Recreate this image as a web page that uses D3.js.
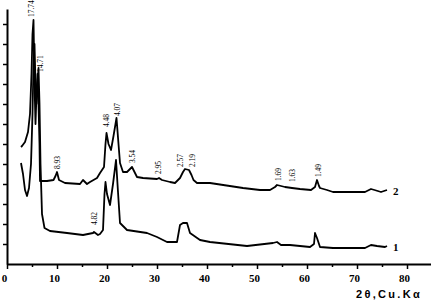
<!DOCTYPE html>
<html><head><meta charset="utf-8">
<script src="https://cdn.jsdelivr.net/npm/d3@7"></script>
<style>html,body{margin:0;padding:0;background:#fff;}svg{display:block;}</style>
</head><body>
<svg id="c" width="431" height="302"></svg>
<script>
// 2θ values and intensities (arbitrary units) for pattern 2 (upper) and pattern 1 (lower)
const theta2 = [2.8,3.0,3.6,4.2,4.6,4.9,5.1,5.3,5.5,5.7,5.9,6.1,6.3,6.5,6.6,8.0,9.3,9.7,10.0,10.4,11.6,14.6,15.2,16.0,16.6,18.0,18.6,19.4,19.7,19.9,20.3,20.8,21.3,21.9,22.3,22.6,23.2,24.0,25.0,26.0,27.2,30.0,30.4,31.0,32.6,33.6,34.6,35.2,35.6,36.4,36.9,37.3,38.0,40.6,47.2,50.6,52.6,53.6,54.0,54.8,55.6,57.0,58.6,60.8,61.6,62.0,62.4,62.6,64.0,65.2,69.0,71.6,72.8,73.5,74.8,76.0];
const int2 = [5.85,5.9,6.1,6.6,7.5,9.5,11.5,12.2,9.0,7.0,8.5,9.5,8.0,6.0,4.15,4.15,4.2,4.4,4.6,4.2,4.05,4.0,4.2,4.0,4.1,4.3,4.55,4.85,6.0,6.55,6.0,5.7,6.4,7.3,6.0,5.05,4.6,4.6,4.85,4.35,4.3,4.25,4.3,4.2,4.1,4.05,4.3,4.6,4.75,4.7,4.45,4.2,4.05,4.05,3.8,3.7,3.7,3.85,3.95,3.9,3.85,3.8,3.75,3.7,3.85,4.2,3.9,3.8,3.7,3.6,3.6,3.6,3.75,3.7,3.6,3.7];
const theta1 = [2.8,3.2,3.6,4.0,4.4,4.8,5.1,5.3,5.5,5.7,5.9,6.1,6.3,6.5,6.7,7.0,7.5,8.6,12.0,15.2,17.2,17.4,18.2,18.6,19.2,19.5,19.7,20.0,20.6,21.2,21.8,22.2,22.6,24.0,28.0,30.0,32.0,34.0,34.6,35.2,36.0,36.6,38.6,40.6,48.0,53.2,54.0,54.8,56.6,60.6,61.4,61.6,62.0,62.6,65.2,71.6,72.8,74.0,75.6,76.0];
const int1 = [5.05,4.5,3.7,3.4,3.8,5.0,7.5,10.0,11.0,9.0,8.0,9.0,9.8,8.0,5.0,2.5,1.8,1.65,1.55,1.45,1.55,1.6,1.45,1.5,1.7,3.5,4.1,3.5,2.95,4.0,5.2,3.6,2.05,1.7,1.55,1.35,1.1,1.1,1.95,2.05,2.05,1.55,1.2,1.1,0.9,1.05,1.1,0.95,0.95,0.85,1.0,1.55,1.3,0.85,0.8,0.8,0.95,0.9,0.85,0.9];
// d-spacing labels and their anchor (2θ, intensity)
const peakLabels = ["17.74","14.71","8.93","4.82","4.48","4.07","3.54","2.95","2.57","2.19","1.69","1.63","1.49"];
const peakTheta  = [4.8,6.6,10.0,17.4,19.8,22.0,25.0,30.2,34.6,37.0,54.2,57.0,62.2];
const peakLevel  = [12.35,9.6,4.75,1.95,6.85,7.4,5.05,4.5,4.85,4.85,4.15,4.1,4.35];
const seriesNames = ["2","1"];
const xMajor = [0,10,20,30,40,50,60,70,80];
const xMinor = [5,15,25,35,45,55,65,75,85];
const yTicks = [1,2,3,4,5,6,7,8,9,10,11,12];
const xTitle = "2θ,Cu.Kα";

const svg = d3.select("#c");
const x = d3.scaleLinear().domain([0,85]).range([7,432]);
const y = d3.scaleLinear().domain([0,12.75]).range([264,9]);

// axes
const gx = svg.append("g").attr("transform","translate(0,264)");
gx.call(d3.axisBottom(x).tickValues(xMajor).tickSize(5).tickSizeOuter(0).tickFormat(d3.format("d")));
const gxm = svg.append("g").attr("transform","translate(0,264)");
gxm.call(d3.axisBottom(x).tickValues(xMinor).tickSize(3).tickSizeOuter(0).tickFormat(""));
gxm.select(".domain").remove();
const gy = svg.append("g").attr("transform","translate(7,0)");
gy.call(d3.axisLeft(y).tickValues(yTicks).tickSize(4).tickSizeOuter(0).tickFormat(""));
svg.selectAll(".domain").attr("stroke","#000").attr("stroke-width",2);
svg.selectAll(".tick line").attr("stroke","#000").attr("stroke-width",1.5);
gx.selectAll(".tick text")
  .attr("font-family","'Liberation Serif', serif").attr("font-weight","bold")
  .attr("font-size","11px").attr("fill","#000").attr("dx","-3").attr("y",10);

// curves
const line = d3.line().x(d=>x(d[0])).y(d=>y(d[1]));
const s2 = theta2.map((t,i)=>[t,int2[i]]);
const s1 = theta1.map((t,i)=>[t,int1[i]]);
[s2,s1].forEach(s=>{
  svg.append("path").datum(s).attr("d",line)
    .attr("fill","none").attr("stroke","#000").attr("stroke-width",1.8)
    .attr("stroke-linejoin","round");
});

// series numbers
[s2,s1].forEach((s,i)=>{
  const last = s[s.length-1];
  svg.append("text").attr("x",x(last[0])+6).attr("y",y(last[1])+5)
    .attr("font-family","'Liberation Serif', serif").attr("font-weight","bold")
    .attr("font-size","11px").attr("fill","#000").text(seriesNames[i]);
});

// peak labels (rotated)
peakLabels.forEach((lab,i)=>{
  const px = x(peakTheta[i])+2.5, py = y(peakLevel[i]);
  svg.append("text").attr("transform",`translate(${px},${py}) rotate(-90)`)
    .attr("font-family","'Liberation Serif', serif").attr("font-size","7.5px")
    .attr("fill","#000").text(lab);
});

// axis title
svg.append("text").attr("x",356).attr("y",298)
  .attr("font-family","'Liberation Sans', Arial, sans-serif").attr("font-weight","bold")
  .attr("font-size","11px").attr("letter-spacing","2.3px").attr("fill","#000").text(xTitle);
</script>
</body></html>
